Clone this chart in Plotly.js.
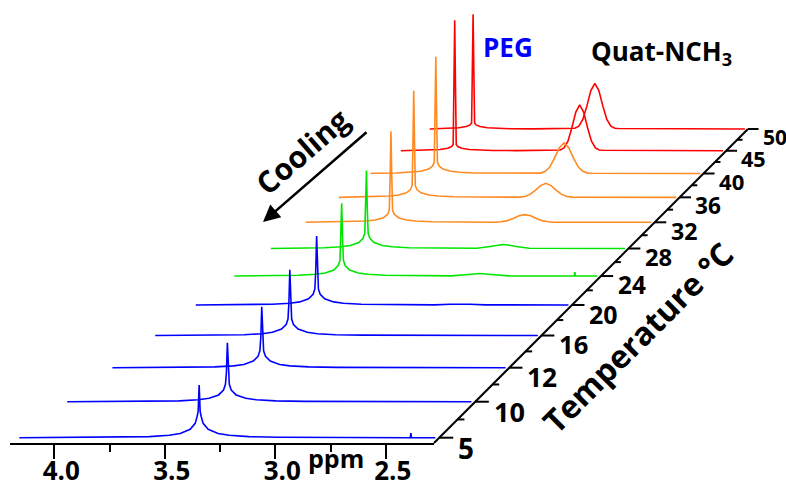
<!DOCTYPE html>
<html><head><meta charset="utf-8">
<script src="https://cdn.plot.ly/plotly-3.0.1.min.js"></script>
<style>html,body{margin:0;padding:0;background:#fff}</style>
</head><body><div id="chart" style="width:786px;height:487px"></div>
<script>
// ---------------- data ----------------
const temperatures = [5, 10, 12, 16, 20, 24, 28, 32, 36, 40, 45, 50];

const ppm05 = [4.19, 3.735, 3.599, 3.509, 3.459, 3.414, 3.391, 3.382, 3.3775, 3.373, 3.3685, 3.364, 3.355, 3.332, 3.287, 3.237, 3.147, 3.011, 2.414, 2.411, 2.408, 2.30];
const int05 = [0, 0.5, 1.1, 2.4, 4.2, 8.4, 14.4, 21.6, 26.5, 52.9, 26.5, 21.6, 14.4, 8.4, 4.2, 2.4, 1.1, 0.5, 0, 4.6, 0, 0];

const ppm10 = [4.19, 3.803, 3.667, 3.577, 3.527, 3.482, 3.459, 3.450, 3.4455, 3.441, 3.4365, 3.432, 3.423, 3.400, 3.355, 3.305, 3.215, 3.079, 2.30];
const int10 = [0, 0.4, 0.9, 2, 3.5, 7, 12, 18, 30.5, 61, 30.5, 18, 12, 7, 3.5, 2, 0.9, 0.4, 0];

const ppm12 = [4.19, 3.834, 3.698, 3.608, 3.558, 3.513, 3.490, 3.481, 3.4765, 3.472, 3.4675, 3.463, 3.454, 3.431, 3.386, 3.336, 3.246, 3.110, 2.30];
const int12 = [0, 0.4, 0.9, 2, 3.5, 7, 12, 18, 32.4, 64.8, 32.4, 18, 12, 7, 3.5, 2, 0.9, 0.4, 0];

const ppm16 = [4.19, 3.887, 3.751, 3.661, 3.611, 3.566, 3.543, 3.534, 3.5295, 3.525, 3.5205, 3.516, 3.507, 3.484, 3.439, 3.389, 3.299, 3.163, 2.30];
const int16 = [0, 0.4, 0.9, 2, 3.5, 7, 12, 18, 35.9, 71.7, 35.9, 18, 12, 7, 3.5, 2, 0.9, 0.4, 0];

const ppm20 = [4.19, 3.939, 3.803, 3.713, 3.663, 3.618, 3.595, 3.586, 3.5815, 3.577, 3.5725, 3.568, 3.559, 3.536, 3.491, 3.441, 3.351, 3.215, 2.98, 2.90, 2.85, 2.80, 2.72, 2.30];
const int20 = [0, 0.4, 0.9, 2, 3.5, 7, 12, 18, 38.7, 77.3, 38.7, 18, 12, 7, 3.5, 2, 0.9, 0.4, 0.2, 0.8, 1.2, 0.8, 0.2, 0];

const ppm24 = [4.19, 3.993, 3.857, 3.767, 3.717, 3.672, 3.649, 3.640, 3.6355, 3.631, 3.6265, 3.622, 3.613, 3.590, 3.545, 3.495, 3.405, 3.269, 3.06, 2.987, 2.912, 2.837, 2.76, 2.421, 2.418, 2.415, 2.30];
const int24 = [0, 0.4, 0.9, 2, 3.5, 7, 12, 18, 41.8, 83.6, 41.8, 18, 12, 7, 3.5, 2, 0.9, 0.4, 0.2, 1.45, 2.9, 1.45, 0.2, 0, 4.6, 0, 0];

const ppm28 = [4.19, 4.042, 3.906, 3.816, 3.766, 3.721, 3.698, 3.689, 3.6845, 3.680, 3.6755, 3.671, 3.662, 3.639, 3.594, 3.544, 3.454, 3.318, 3.091, 3.021, 2.986, 2.951, 2.916, 2.881, 2.811, 2.30];
const int28 = [0, 0.4, 0.9, 2, 3.5, 7, 12, 18, 46, 92, 46, 18, 12, 7, 3.5, 2, 0.9, 0.4, 0.3, 2.35, 3.9, 4.7, 3.9, 2.35, 0.3, 0];

const ppm32 = [4.19, 4.086, 3.950, 3.860, 3.810, 3.765, 3.742, 3.733, 3.7285, 3.724, 3.7195, 3.715, 3.706, 3.683, 3.638, 3.588, 3.498, 3.362, 3.151, 3.119, 3.087, 3.056, 3.024, 2.992, 2.960, 2.929, 2.897, 2.865, 2.833, 2.30];
const int32 = [0, 0.3, 0.7, 1.6, 2.8, 5.6, 9.6, 14.4, 55, 110, 55, 14.4, 9.6, 5.6, 2.8, 1.6, 0.7, 0.3, 0.12, 0.6, 2.0, 4.65, 7.8, 9.3, 7.8, 4.65, 2.0, 0.6, 0.12, 0];

const ppm36 = [4.19, 4.133, 3.997, 3.907, 3.857, 3.812, 3.789, 3.780, 3.7755, 3.771, 3.7665, 3.762, 3.753, 3.730, 3.685, 3.635, 3.545, 3.409, 3.179, 3.149, 3.120, 3.090, 3.061, 3.031, 3.002, 2.972, 2.943, 2.913, 2.884, 2.30];
const int36 = [0, 0.3, 0.7, 1.6, 2.8, 5.6, 9.6, 14.4, 66, 132, 66, 14.4, 9.6, 5.6, 2.8, 1.6, 0.7, 0.3, 0.22, 1.1, 3.6, 8.65, 14.5, 17.3, 14.5, 8.65, 3.6, 1.1, 0.22, 0];

const ppm40 = [4.19, 4.178, 4.042, 3.952, 3.902, 3.857, 3.834, 3.825, 3.8205, 3.816, 3.8115, 3.807, 3.798, 3.775, 3.730, 3.680, 3.590, 3.454, 3.245, 3.217, 3.190, 3.163, 3.136, 3.108, 3.081, 3.054, 3.027, 2.999, 2.972, 2.945, 2.918, 2.30];
const int40 = [0, 0.3, 0.7, 1.6, 2.8, 5.6, 9.6, 14.4, 74, 148, 74, 14.4, 9.6, 5.6, 2.8, 1.6, 0.7, 0.3, 0.15, 0.5, 2.4, 8.1, 19.4, 32.6, 38.8, 32.6, 19.4, 8.1, 2.4, 0.5, 0.3, 0];

const ppm45 = [4.19, 4.100, 4.010, 3.960, 3.915, 3.892, 3.883, 3.8785, 3.874, 3.8695, 3.865, 3.856, 3.833, 3.788, 3.738, 3.648, 3.512, 3.279, 3.256, 3.233, 3.210, 3.187, 3.164, 3.141, 3.118, 3.095, 3.072, 3.049, 3.026, 3.003, 2.30];
const int45 = [0.1, 0.4, 0.9, 1.6, 3.2, 5.4, 8.1, 84.5, 169, 84.5, 8.1, 5.4, 3.2, 1.6, 0.9, 0.4, 0.2, 0.6, 1.0, 3.7, 12.5, 29.8, 50.1, 59.6, 50.1, 29.8, 12.5, 3.7, 1.0, 0.6, 0];

const ppm50 = [4.19, 4.156, 4.066, 4.016, 3.971, 3.948, 3.939, 3.9345, 3.930, 3.9255, 3.921, 3.912, 3.889, 3.844, 3.794, 3.704, 3.568, 3.344, 3.320, 3.296, 3.272, 3.248, 3.224, 3.200, 3.176, 3.152, 3.128, 3.104, 3.080, 3.056, 2.30];
const int50 = [0.1, 0.4, 0.9, 1.6, 3.2, 5.4, 8.1, 76, 152, 76, 8.1, 5.4, 3.2, 1.6, 0.9, 0.4, 0.2, 0.6, 1.0, 3.8, 12.7, 30.3, 50.9, 60.6, 50.9, 30.3, 12.7, 3.8, 1.0, 0.6, 0];

const ppmSeries = [ppm05, ppm10, ppm12, ppm16, ppm20, ppm24, ppm28, ppm32, ppm36, ppm40, ppm45, ppm50];
const intSeries = [int05, int10, int12, int16, int20, int24, int28, int32, int36, int40, int45, int50];

const ppmTickVals = [4.0, 3.5, 3.0, 2.5];
const ppmTickText = ['4.0', '3.5', '3.0', '2.5'];
const ppmMinorVals = [3.75, 3.25, 2.75];

// ---------------- styling / geometry ----------------
const BLUE = '#0000ff', GREEN = '#00e600', ORANGE = '#ff8a22', RED = '#ff0000';
const lineColors = [BLUE, BLUE, BLUE, BLUE, BLUE, GREEN, GREEN, ORANGE, ORANGE, ORANGE, RED, RED];
const FONT = 'Open Sans, Lato, sans-serif';

const W = 786, H = 487;
const pxPerPpm = 221;
const ppmAtPx0 = 4.0 + 54.3 / pxPerPpm;
const ppmOfPx = px => ppmAtPx0 - px / pxPerPpm;
const axisPy = 443;
const cornerPpm = ppmOfPx(434);
// oblique perspective toward a vanishing point up and to the right (45 deg)
const vanish = 1280;
const VX = cornerPpm - vanish / pxPerPpm, VY = vanish;
const kDepth = 0.02917, z0 = 0.1425;
const scaleAt = z => 1 / (1 + kDepth * z);
const proj = (ppm, inten, s) => [VX + s * (ppm - VX), VY + s * (inten - VY)];

const traces = [];
// dummy trace so the visible ppm axis subplot exists
traces.push({x: [4.0], y: [0.5], xaxis: 'x', yaxis: 'y', mode: 'markers',
  marker: {opacity: 0}, hoverinfo: 'skip', showlegend: false});

// spectra, back to front
for (let j = temperatures.length - 1; j >= 0; j--) {
  const s = scaleAt(z0 + j);
  const xs = [], ys = [];
  ppmSeries[j].forEach((p, i) => {
    const q = proj(p, intSeries[j][i], s);
    xs.push(q[0]); ys.push(q[1]);
  });
  traces.push({x: xs, y: ys, xaxis: 'x2', yaxis: 'y2', mode: 'lines',
    line: {color: lineColors[j], width: 1.6}, hoverinfo: 'skip', showlegend: false,
    name: temperatures[j] + ' °C'});
}

// oblique temperature axis
const zEnd = z0 + temperatures.length - 1;
const a0 = proj(cornerPpm, 0, 1), a1 = proj(cornerPpm, 0, scaleAt(zEnd));
const axX = [a0[0], a1[0], null], axY = [a0[1], a1[1], null];
const majLen = 14 / pxPerPpm, minLen = 7 / pxPerPpm;
for (let j = 0; j < temperatures.length; j++) {
  const s = scaleAt(z0 + j);
  const p = proj(cornerPpm, 0, s), e = proj(cornerPpm - majLen, 0, s);
  axX.push(p[0], e[0], null); axY.push(p[1], e[1], null);
  if (j < temperatures.length - 1) {
    const sm = scaleAt(z0 + j + 0.5);
    const pm = proj(cornerPpm, 0, sm), em = proj(cornerPpm - minLen, 0, sm);
    axX.push(pm[0], em[0], null); axY.push(pm[1], em[1], null);
  }
}
traces.push({x: axX, y: axY, xaxis: 'x2', yaxis: 'y2', mode: 'lines',
  line: {color: '#000', width: 2}, hoverinfo: 'skip', showlegend: false});

const annotations = [];
temperatures.forEach((t, j) => {
  const s = scaleAt(z0 + j);
  const p = proj(cornerPpm - 17 / pxPerPpm, -10, s);
  annotations.push({x: p[0], y: p[1], xref: 'x2', yref: 'y2', text: String(t),
    showarrow: false, xanchor: 'left', yanchor: 'middle',
    font: {family: FONT, size: 28 * s, weight: 'bold', color: '#000'}});
});

const P = (px, py) => ({x: px / W, y: 1 - py / H, xref: 'paper', yref: 'paper'});

annotations.push(Object.assign(P(336, 458), {text: 'ppm', showarrow: false,
  xanchor: 'center', yanchor: 'middle', font: {family: FONT, size: 25, weight: 'bold', color: '#000'}}));
annotations.push(Object.assign(P(637, 337), {text: 'Temperature °C', showarrow: false,
  textangle: -45, xanchor: 'center', yanchor: 'middle',
  font: {family: FONT, size: 32, weight: 'bold', color: '#000'}}));
annotations.push(Object.assign(P(302, 152), {text: 'Cooling', showarrow: false,
  textangle: -41, xanchor: 'center', yanchor: 'middle',
  font: {family: FONT, size: 30, weight: 'bold', color: '#000'}}));
annotations.push(Object.assign(P(263, 222), {text: '', showarrow: true,
  ax: 105, ay: -91, axref: 'pixel', ayref: 'pixel', arrowhead: 2, arrowsize: 1.3,
  arrowwidth: 2.6, arrowcolor: '#000', standoff: 0, startstandoff: 0}));
annotations.push(Object.assign(P(508, 47), {text: 'PEG', showarrow: false,
  xanchor: 'center', yanchor: 'middle', font: {family: FONT, size: 26, weight: 'bold', color: '#0000ff'}}));
annotations.push(Object.assign(P(661, 52), {text: 'Quat-NCH<sub>3</sub>', showarrow: false,
  xanchor: 'center', yanchor: 'middle', font: {family: FONT, size: 26, weight: 'bold', color: '#000'}}));

const layout = {
  width: W, height: H, margin: {l: 0, r: 0, t: 0, b: 0},
  paper_bgcolor: '#fff', plot_bgcolor: 'rgba(0,0,0,0)', showlegend: false,
  xaxis: {domain: [10 / W, 434 / W], range: [ppmOfPx(10), cornerPpm], anchor: 'y',
    tickvals: ppmTickVals, ticktext: ppmTickText, ticks: 'outside', ticklen: 14, tickwidth: 2,
    tickcolor: '#000', showline: true, linecolor: '#000', linewidth: 2, showgrid: false,
    zeroline: false, ticklabelshift: -7, ticklabelstandoff: -10,
    tickfont: {family: FONT, size: 26, weight: 'bold', color: '#000'},
    minor: {tickvals: ppmMinorVals, ticks: 'outside', ticklen: 7, tickwidth: 2, tickcolor: '#000', showgrid: false}},
  yaxis: {domain: [(H - axisPy) / H, 1], range: [0, 1], anchor: 'x', visible: false},
  xaxis2: {domain: [0, 1], range: [ppmAtPx0, ppmOfPx(W)], anchor: 'y2', visible: false},
  yaxis2: {domain: [0, 1], range: [axisPy - H, axisPy], anchor: 'x2', visible: false},
  annotations: annotations
};

Plotly.newPlot('chart', traces, layout, {staticPlot: true, displayModeBar: false});
</script></body></html>
